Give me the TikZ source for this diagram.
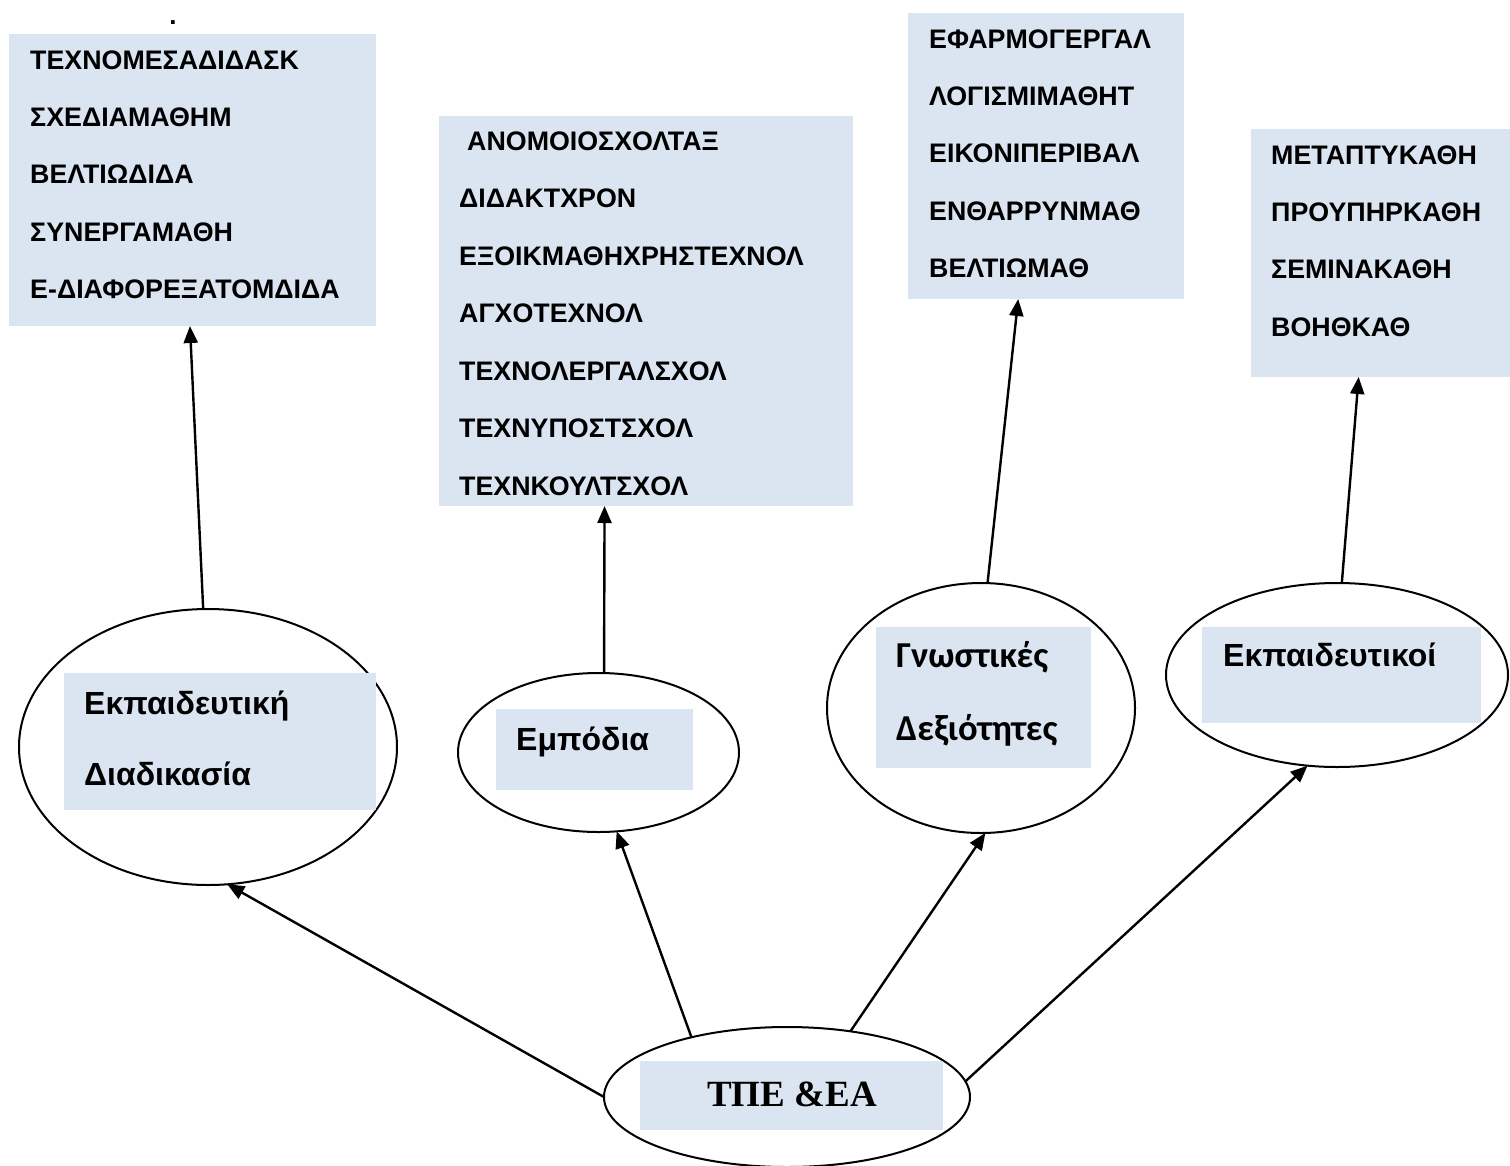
\documentclass[tikz,border=0pt]{standalone}
\usepackage{fontspec}
\setmainfont{Liberation Sans}
\newfontfamily\timesfont{Liberation Serif}
\newfontfamily\calibrifont{Carlito}
\usepackage{tikz}
\usetikzlibrary{shapes.geometric, arrows.meta}
\definecolor{boxfill}{RGB}{219, 229, 241}
\definecolor{linecol}{RGB}{0, 0, 0}
\tikzset{
  listbox/.style={
    rectangle, fill=boxfill, inner sep=0pt, outer sep=0pt, anchor=north west
  },
  labelbox/.style={listbox},
  ovalnode/.style={
    ellipse, draw=linecol, line width=2pt, inner sep=0pt, outer sep=0pt
  },
  itemtext/.style={
    font=\fontsize{26.8}{30}\selectfont\bfseries, anchor=west, inner sep=0pt
  },
  labeltext/.style={
    font=\fontsize{32}{36}\selectfont\bfseries, anchor=base west, inner sep=0pt
  },
  flowline/.style={
    draw=linecol, line width=2.4pt, -{Triangle[length=17pt, width=14pt]}
  }
}
\begin{document}
\begin{tikzpicture}[x=1pt, y=-1pt]

  \useasboundingbox (0,0) rectangle (1510,1165);

  % Ovals
  \node[ovalnode, minimum width=378pt, minimum height=276pt] (proc_oval) at (208,747) {};
  \node[ovalnode, minimum width=281pt, minimum height=159pt] (barrier_oval) at (598.5,752.5) {};
  \node[ovalnode, minimum width=308pt, minimum height=250pt] (skill_oval) at (981,708) {};
  \node[ovalnode, minimum width=342pt, minimum height=184pt] (teacher_oval) at (1337,675) {};
  \node[ovalnode, minimum width=366pt, minimum height=140pt] (tpe_oval) at (787,1097) {};

  % Label boxes inside the ovals
  \node[labelbox, minimum width=312pt, minimum height=137pt] (proc_box) at (64,673) {};
  \node[labeltext] (proc_l1) at (84,714) {Εκπαιδευτική};
  \node[labeltext] (proc_l2) at (84,785) {Διαδικασία};

  \node[labelbox, minimum width=197pt, minimum height=81pt] (barrier_box) at (496,709) {};
  \node[labeltext] (barrier_l1) at (516,750) {Εμπόδια};

  \node[labelbox, minimum width=215pt, minimum height=141pt] (skill_box) at (876,627) {};
  \node[labeltext, font=\calibrifont\fontsize{36.5}{40}\selectfont\bfseries] (skill_l1) at (896,667) {Γνωστικές};
  \node[labeltext, font=\calibrifont\fontsize{36.5}{40}\selectfont\bfseries] (skill_l2) at (896,740) {Δεξιότητες};

  \node[labelbox, minimum width=279pt, minimum height=96pt] (teacher_box) at (1202,627) {};
  \node[labeltext] (teacher_l1) at (1223,666) {Εκπαιδευτικοί};

  \node[labelbox, minimum width=303pt, minimum height=69pt] (tpe_box) at (640,1061) {};
  \node[labeltext, font=\timesfont\fontsize{37}{40}\selectfont\bfseries] (tpe_l1) at (707,1106) {ΤΠΕ \&ΕΑ};

  % List boxes
  \node[listbox, minimum width=367pt, minimum height=292pt] (proc_list) at (9,34) {};
  \node[inner sep=0pt, font=\fontsize{26}{30}\selectfont\bfseries] (dot_mark) at (173,23) {.};
  \foreach \txt [count=\i from 0] in {ΤΕΧΝΟΜΕΣΑΔΙΔΑΣΚ, ΣΧΕΔΙΑΜΑΘΗΜ, ΒΕΛΤΙΩΔΙΔΑ, ΣΥΝΕΡΓΑΜΑΘΗ, Ε-ΔΙΑΦΟΡΕΞΑΤΟΜΔΙΔΑ}
    \node[itemtext] (proc_item\i) at (30,{60+57.3*\i}) {\txt};

  \node[listbox, minimum width=414pt, minimum height=390pt] (barrier_list) at (439,116) {};
  \foreach \xx/\txt [count=\i from 0] in {467/ΑΝΟΜΟΙΟΣΧΟΛΤΑΞ, 459/ΔΙΔΑΚΤΧΡΟΝ, 459/ΕΞΟΙΚΜΑΘΗΧΡΗΣΤΕΧΝΟΛ, 459/ΑΓΧΟΤΕΧΝΟΛ, 459/ΤΕΧΝΟΛΕΡΓΑΛΣΧΟΛ, 459/ΤΕΧΝΥΠΟΣΤΣΧΟΛ, 459/ΤΕΧΝΚΟΥΛΤΣΧΟΛ}
    \node[itemtext] (barrier_item\i) at (\xx,{141+57.5*\i}) {\txt};

  \node[listbox, minimum width=276pt, minimum height=286pt] (skill_list) at (908,13) {};
  \foreach \txt [count=\i from 0] in {ΕΦΑΡΜΟΓΕΡΓΑΛ, ΛΟΓΙΣΜΙΜΑΘΗΤ, ΕΙΚΟΝΙΠΕΡΙΒΑΛ, ΕΝΘΑΡΡΥΝΜΑΘ, ΒΕΛΤΙΩΜΑΘ}
    \node[itemtext] (skill_item\i) at (929,{39+57.3*\i}) {\txt};

  \node[listbox, minimum width=259pt, minimum height=248pt] (teacher_list) at (1251,129) {};
  \foreach \txt [count=\i from 0] in {ΜΕΤΑΠΤΥΚΑΘΗ, ΠΡΟΥΠΗΡΚΑΘΗ, ΣΕΜΙΝΑΚΑΘΗ, ΒΟΗΘΚΑΘ}
    \node[itemtext] (teacher_item\i) at (1271,{155+57.3*\i}) {\txt};

  % Flows from the ovals up to the lists
  \draw[flowline] (proc_oval.92) -- (proc_list.-91);
  \draw[flowline] (barrier_oval.86) -- (barrier_list.-102);
  \draw[flowline] (skill_oval.87) -- (skill_list.-101.6);
  \draw[flowline] (teacher_oval.87.5) -- (teacher_list.-100.7);

  % Flows from the root oval
  \draw[flowline] (tpe_oval.180) -- (proc_oval.-82);
  \draw[flowline] (tpe_oval.148) -- (barrier_oval.-77);
  \draw[flowline] (tpe_oval.46) -- (skill_oval.-88);
  \draw[flowline] (tpe_oval.5) -- (teacher_oval.-108);

\end{tikzpicture}
\end{document}
